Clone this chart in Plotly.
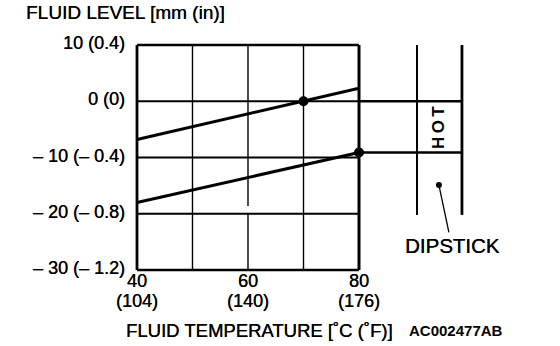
import plotly.graph_objects as go

# Fluid level vs fluid temperature, with dipstick marks
temp_c = [40, 80]
level_hot_upper = [-6.8, 2.3]
level_hot_lower = [-18.0, -9.1]
point_upper = (70, 0)
point_lower = (80, -9.1)

x_ticks = [40, 60, 80]
x_tick_labels_c = ["40", "60", "80"]
x_tick_labels_f = ["(104)", "(140)", "(176)"]
x_grid = [50, 60, 70]
y_ticks = [10, 0, -10, -20, -30]
y_tick_labels = ["10 (0.4)", "0 (0)", "\u2013 10 (\u2013 0.4)", "\u2013 20 (\u2013 0.8)", "\u2013 30 (\u2013 1.2)"]

X_MIN, X_MAX = 40, 80
Y_MIN, Y_MAX = -30, 10

# dipstick geometry (in chart units)
STICK_LEFT, STICK_RIGHT = 90.45, 98.55
STICK_BOTTOM = -20.2
STICK_DOT = (94.4, -14.9)
LEADER_END = (96.2, -23.3)

FONT = "Liberation Sans, Arial, sans-serif"
BLACK = "#000000"
HEAVY = "0.25px 0 0 #000"  # slightly heavier strokes for the regular text

fig = go.Figure()

shapes = []


def seg(x0, y0, x1, y1, w):
    shapes.append(dict(type="line", xref="x", yref="y", x0=x0, y0=y0, x1=x1, y1=y1,
                       line=dict(color=BLACK, width=w), layer="below"))


# interior grid
for gx in x_grid:
    if gx == 60:
        seg(gx, Y_MAX, gx, -18.6, 1.4)
        seg(gx, -20, gx, Y_MIN, 1.4)
    else:
        seg(gx, Y_MAX, gx, Y_MIN, 1.4)
for gy in [0, -10, -20]:
    seg(X_MIN, gy, X_MAX, gy, 2)
# frame
seg(X_MIN, Y_MAX, X_MAX, Y_MAX, 2.5)
seg(X_MIN, Y_MIN, X_MAX, Y_MIN, 2.5)
seg(X_MIN, Y_MIN, X_MIN, Y_MAX, 2.8)
seg(X_MAX, Y_MIN, X_MAX, Y_MAX, 3)

# dipstick
seg(STICK_LEFT, Y_MAX, STICK_LEFT, STICK_BOTTOM, 2)
seg(STICK_RIGHT, Y_MAX, STICK_RIGHT, STICK_BOTTOM, 2.8)
seg(X_MAX, point_upper[1], STICK_RIGHT, point_upper[1], 2.5)
seg(X_MAX, point_lower[1], STICK_RIGHT, point_lower[1], 2.5)
seg(STICK_DOT[0], STICK_DOT[1], LEADER_END[0], LEADER_END[1], 1.3)

fig.add_trace(go.Scatter(x=temp_c, y=level_hot_upper, mode="lines",
                         line=dict(color=BLACK, width=3), hoverinfo="skip"))
fig.add_trace(go.Scatter(x=temp_c, y=level_hot_lower, mode="lines",
                         line=dict(color=BLACK, width=3), hoverinfo="skip"))
fig.add_trace(go.Scatter(x=[point_upper[0], point_lower[0]], y=[point_upper[1], point_lower[1]],
                         mode="markers", marker=dict(color=BLACK, size=10), hoverinfo="skip"))
fig.add_trace(go.Scatter(x=[STICK_DOT[0]], y=[STICK_DOT[1]], mode="markers",
                         marker=dict(color=BLACK, size=6), hoverinfo="skip"))


def txt(size, bold=False):
    f = dict(size=size, family=FONT, color=BLACK)
    if bold:
        f["weight"] = "bold"
    else:
        f["shadow"] = HEAVY
    return f


ann = []
for v, t in zip(y_ticks, y_tick_labels):
    ann.append(dict(x=X_MIN, y=v, xref="x", yref="y", text=t, showarrow=False,
                    xanchor="right", yanchor="middle", xshift=-10, yshift=2,
                    font=txt(18)))
for v, tc, tf in zip(x_ticks, x_tick_labels_c, x_tick_labels_f):
    ann.append(dict(x=v, y=Y_MIN, xref="x", yref="y", text=tc, showarrow=False,
                    xanchor="center", yanchor="middle", yshift=-11, font=txt(18)))
    ann.append(dict(x=v, y=Y_MIN, xref="x", yref="y", text=tf, showarrow=False,
                    xanchor="center", yanchor="middle", yshift=-31, font=txt(18)))

ann.append(dict(x=24, y=12, xref="paper", yref="paper", text="FLUID LEVEL [mm (in)]",
                showarrow=False, xanchor="left", yanchor="middle", font=txt(19)))
ann.append(dict(x=94.2, y=-4.6, xref="x", yref="y", text="H\u2009O\u2009T", textangle=-90,
                showarrow=False, xanchor="center", yanchor="middle", font=txt(17, bold=True)))
ann.append(dict(x=96.9, y=-25.7, xref="x", yref="y", text="DIPSTICK",
                showarrow=False, xanchor="center", yanchor="middle", font=txt(20.5)))
ann.append(dict(x=259, y=330, xref="paper", yref="paper", text="FLUID TEMPERATURE [\u02daC (\u02daF)]",
                showarrow=False, xanchor="center", yanchor="middle", font=txt(18.5)))
ann.append(dict(x=456, y=330, xref="paper", yref="paper", text="AC002477AB",
                showarrow=False, xanchor="center", yanchor="middle", font=txt(15, bold=True)))

# pixel-positioned annotations (given in px) converted to paper fractions
W, H = 560, 346
L, R, T, B = 127, 90, 36, 67
for a in ann:
    if a["xref"] == "paper":
        a["x"] = (a["x"] - L) / (W - L - R)
        a["y"] = 1 - (a["y"] - T) / (H - T - B)

fig.update_layout(
    width=W, height=H,
    margin=dict(l=L, r=R, t=T, b=B, pad=0),
    paper_bgcolor="white", plot_bgcolor="white",
    showlegend=False,
    xaxis=dict(range=[38.2, 100.0], visible=False, fixedrange=True),
    yaxis=dict(range=[-31.6, 11.6], visible=False, fixedrange=True),
    shapes=shapes,
    annotations=ann,
)

fig.write_html("out.html", config={"displayModeBar": False})
